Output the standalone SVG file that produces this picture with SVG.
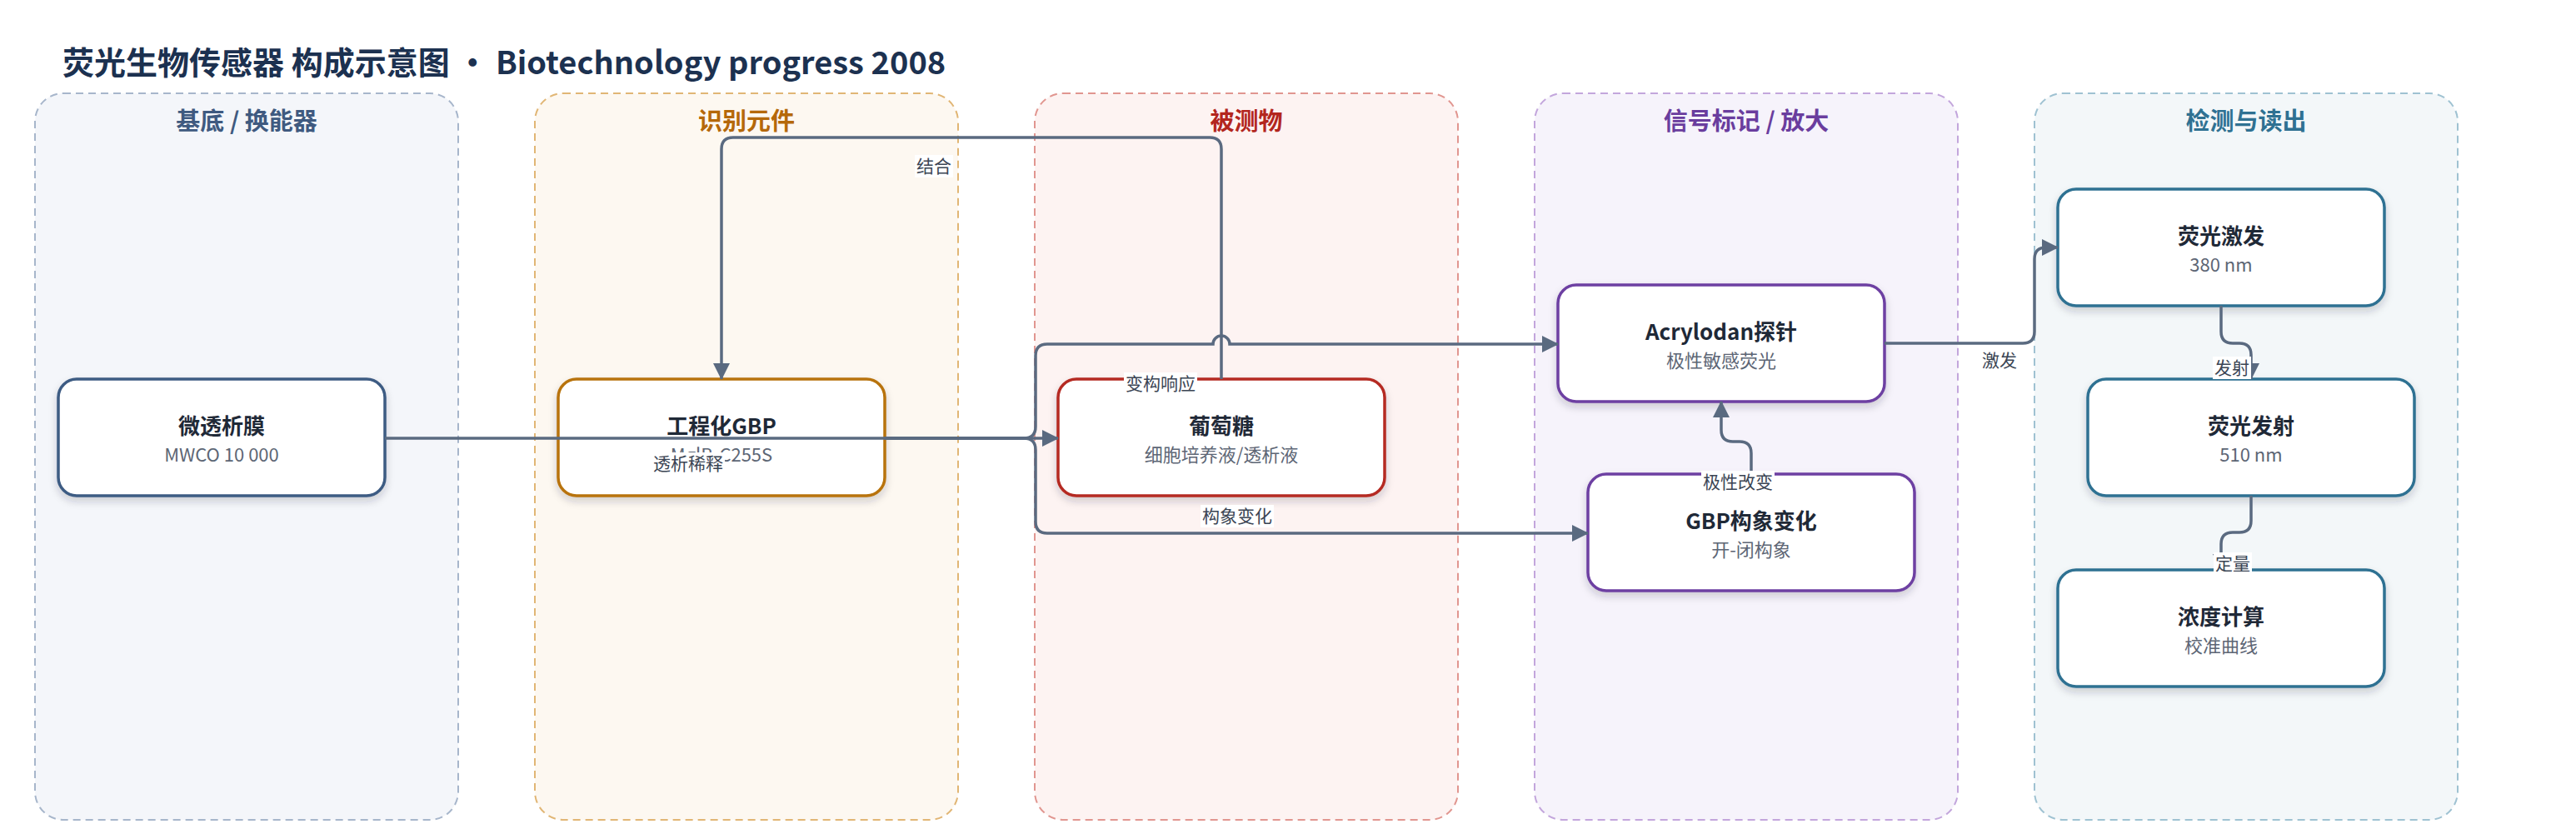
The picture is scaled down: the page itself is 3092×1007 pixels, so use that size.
<svg xmlns="http://www.w3.org/2000/svg" width="3092" height="1007" viewBox="0 0 3092 1007">
<style>
text{font-family:"Noto Sans CJK SC","Noto Sans",sans-serif;}
.title{font-size:38px;font-weight:700;fill:#1c3150;}
.lane{stroke-width:2;stroke-dasharray:9 6;}
.lt{font-size:29px;font-weight:700;text-anchor:middle;}
.node{fill:#ffffff;stroke-width:3.5;filter:url(#sh);}
.nt{font-size:26px;font-weight:700;fill:#1f2937;text-anchor:middle;}
.ns{font-size:22px;fill:#5d6675;text-anchor:middle;}
.edge{fill:none;stroke:#5a6a80;stroke-width:3.5;}
.arr{marker-end:url(#ah);}
.lbg{fill:#ffffff;}
.lb{font-size:21px;fill:#3b4554;text-anchor:middle;}
</style>
<defs>
<filter id="sh" x="-10%" y="-15%" width="120%" height="140%">
<feDropShadow dx="0" dy="5" stdDeviation="5" flood-color="#1e2a3a" flood-opacity="0.2"/>
</filter>
<marker id="ah" markerUnits="userSpaceOnUse" markerWidth="20" markerHeight="20" viewBox="0 0 20 20" refX="19" refY="10" orient="auto">
<path d="M0,0 L20,10 L0,20 z" fill="#5a6a80"/>
</marker>
</defs>
<rect width="3092" height="1007" fill="#ffffff"/>
<text class="title" x="75" y="89">荧光生物传感器 构成示意图 • Biotechnology progress 2008</text>

<g id="lanes">
<g id="lane-substrate">
<rect class="lane" x="42" y="112" width="508" height="872" rx="34" fill="#f4f6fa" stroke="#a7b6cb"/>
<text class="lt" x="296" y="156" fill="#3f5a80">基底 / 换能器</text>
</g>
<g id="lane-recognition">
<rect class="lane" x="642" y="112" width="508" height="872" rx="34" fill="#fdf8f1" stroke="#e1b675"/>
<text class="lt" x="896" y="156" fill="#b5680a">识别元件</text>
</g>
<g id="lane-analyte">
<rect class="lane" x="1242" y="112" width="508" height="872" rx="34" fill="#fdf3f2" stroke="#e19690"/>
<text class="lt" x="1496" y="156" fill="#b3261e">被测物</text>
</g>
<g id="lane-signal">
<rect class="lane" x="1842" y="112" width="508" height="872" rx="34" fill="#f6f3fb" stroke="#c3a6dc"/>
<text class="lt" x="2096" y="156" fill="#6a3d9e">信号标记 / 放大</text>
</g>
<g id="lane-detect">
<rect class="lane" x="2442" y="112" width="508" height="872" rx="34" fill="#f3f7f9" stroke="#9fc2d2"/>
<text class="lt" x="2696" y="156" fill="#2f7192">检测与读出</text>
</g>
</g>

<g id="n-membrane">
<rect class="node" x="70" y="455" width="392" height="140" rx="22" stroke="#3e5b83"/>
<text class="nt" x="266" y="521">微透析膜</text>
<text class="ns" x="266" y="554">MWCO 10 000</text>
</g>
<g id="n-gbp">
<rect class="node" x="670" y="455" width="392" height="140" rx="22" stroke="#b8730a"/>
<text class="nt" x="866" y="521">工程化GBP</text>
<text class="ns" x="866" y="554">MglB-C255S</text>
</g>
<g id="n-glucose">
<rect class="node" x="1270" y="455" width="392" height="140" rx="22" stroke="#b52a22"/>
<text class="nt" x="1466" y="521">葡萄糖</text>
<text class="ns" x="1466" y="554">细胞培养液/透析液</text>
</g>
<g id="n-acrylodan">
<rect class="node" x="1870" y="342" width="392" height="140" rx="22" stroke="#6d3fa2"/>
<text class="nt" x="2066" y="408">Acrylodan探针</text>
<text class="ns" x="2066" y="441">极性敏感荧光</text>
</g>
<g id="n-conform">
<rect class="node" x="1906" y="569" width="392" height="140" rx="22" stroke="#6d3fa2"/>
<text class="nt" x="2102" y="635">GBP构象变化</text>
<text class="ns" x="2102" y="668">开-闭构象</text>
</g>
<g id="n-excite">
<rect class="node" x="2470" y="227" width="392" height="140" rx="22" stroke="#2f7192"/>
<text class="nt" x="2666" y="293">荧光激发</text>
<text class="ns" x="2666" y="326">380 nm</text>
</g>
<g id="n-emit">
<rect class="node" x="2506" y="455" width="392" height="140" rx="22" stroke="#2f7192"/>
<text class="nt" x="2702" y="521">荧光发射</text>
<text class="ns" x="2702" y="554">510 nm</text>
</g>
<g id="n-conc">
<rect class="node" x="2470" y="684" width="392" height="140" rx="22" stroke="#2f7192"/>
<text class="nt" x="2666" y="750">浓度计算</text>
<text class="ns" x="2666" y="783">校准曲线</text>
</g>

<g id="connectors">
<path class="edge arr" d="M462 526 L1270 526"/>
<path class="edge arr" d="M1062 526 L1229 526 Q1243 526 1243 512 L1243 427 Q1243 413 1257 413 L1456 413 A10 10 0 0 1 1476 413 L1870 413"/>
<path class="edge arr" d="M1062 526 L1229 526 Q1243 526 1243 540 L1243 626 Q1243 640 1257 640 L1906 640"/>
<path class="edge arr" d="M1466 455 L1466 179 Q1466 165 1452 165 L880 165 Q866 165 866 179 L866 455"/>
<path class="edge arr" d="M2102 569 L2102 544 Q2102 530 2088 530 L2080 530 Q2066 530 2066 516 L2066 482"/>
<path class="edge arr" d="M2262 412 L2428 412 Q2442 412 2442 398 L2442 311 Q2442 297 2456 297 L2470 297"/>
<path class="edge arr" d="M2666 367 L2666 398 Q2666 412 2680 412 L2688 412 Q2702 412 2702 426 L2702 455"/>
<path class="edge arr" d="M2702 595 L2702 625 Q2702 639 2688 639 L2680 639 Q2666 639 2666 653 L2666 684"/>

<g id="lbl-dialysis"><rect class="lbg" x="782" y="543" width="88" height="27"/><text class="lb" x="826" y="564">透析稀释</text></g>
<g id="lbl-allo"><rect class="lbg" x="1349" y="447" width="88" height="27"/><text class="lb" x="1393" y="468">变构响应</text></g>
<g id="lbl-bind"><rect class="lbg" x="1098" y="186" width="46" height="27"/><text class="lb" x="1121" y="207">结合</text></g>
<g id="lbl-conform"><rect class="lbg" x="1441" y="606" width="88" height="27"/><text class="lb" x="1485" y="627">构象变化</text></g>
<g id="lbl-polar"><rect class="lbg" x="2042" y="565" width="88" height="27"/><text class="lb" x="2086" y="586">极性改变</text></g>
<g id="lbl-excite"><rect class="lbg" x="2377" y="419" width="46" height="27"/><text class="lb" x="2400" y="440">激发</text></g>
<g id="lbl-emit"><rect class="lbg" x="2656" y="428" width="46" height="27"/><text class="lb" x="2679" y="449">发射</text></g>
<g id="lbl-quant"><rect class="lbg" x="2657" y="663" width="46" height="27"/><text class="lb" x="2680" y="684">定量</text></g>
</g>
</svg>
